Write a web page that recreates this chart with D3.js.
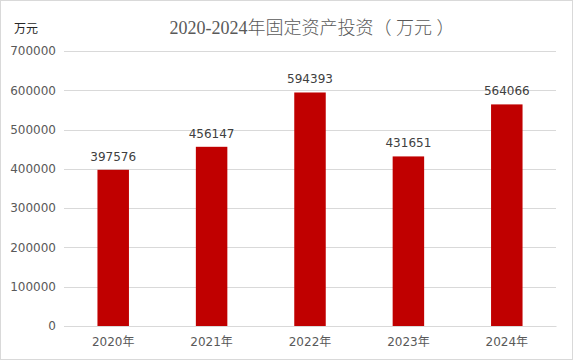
<!DOCTYPE html>
<html>
<head>
<meta charset="utf-8">
<script src="https://cdn.jsdelivr.net/npm/d3@7"></script>
<style>
  body { margin: 0; background: #fff; }
  svg { display: block; }
</style>
</head>
<body>
<svg id="chart" width="573" height="360"></svg>
<script>
const years = ["2020年", "2021年", "2022年", "2023年", "2024年"];
const values = [397576, 456147, 594393, 431651, 564066];
const yTicks = [0, 100000, 200000, 300000, 400000, 500000, 600000, 700000];

const width = 573;
const height = 360;
const margin = { top: 51, left: 64, bottom: 34, right: 17 };
const iwidth = width - margin.left - margin.right;
const iheight = height - margin.top - margin.bottom;

const svg = d3.select("#chart");

// outer frame
svg.append("rect")
  .attr("x", 0.5).attr("y", 0.5)
  .attr("width", width - 1).attr("height", height - 1)
  .attr("fill", "#fff").attr("stroke", "#d9d9d9");

const g = svg.append("g").attr("transform", `translate(${margin.left},${margin.top})`);

const y = d3.scaleLinear().domain([0, 700000]).range([iheight, 0]);
const x = d3.scaleBand().domain(years).range([0, iwidth]).paddingInner(0.68).paddingOuter(0.34);

// grid
g.selectAll("line.grid").data(yTicks).enter().append("line")
  .attr("class", "grid")
  .attr("x1", 0).attr("x2", iwidth)
  .attr("y1", d => Math.round(y(d)) + 0.5).attr("y2", d => Math.round(y(d)) + 0.5)
  .attr("stroke", "#d9d9d9").attr("stroke-width", 1);

// y axis labels
const yAxis = g.append("g")
  .call(d3.axisLeft(y).tickValues(yTicks).tickFormat(d3.format("d")).tickSize(0).tickPadding(8));
yAxis.select(".domain").remove();
yAxis.selectAll("text")
  .attr("fill", "#595959")
  .style("font-family", "'DejaVu Sans', sans-serif")
  .style("font-size", "12px");

// bars
g.selectAll("rect.bar").data(values).enter().append("rect")
  .attr("class", "bar")
  .attr("x", (d, i) => x(years[i]))
  .attr("y", d => y(d))
  .attr("width", x.bandwidth())
  .attr("height", d => iheight - y(d))
  .attr("fill", "#c00000");

// bar labels
g.selectAll("text.val").data(values).enter().append("text")
  .attr("class", "val")
  .attr("x", (d, i) => x(years[i]) + x.bandwidth() / 2)
  .attr("y", d => y(d) - 9)
  .attr("text-anchor", "middle")
  .attr("fill", "#404040")
  .style("font-family", "'DejaVu Sans', sans-serif")
  .style("font-size", "12px")
  .text(d => d);

// x axis
const xAxis = g.append("g")
  .attr("transform", `translate(0,${iheight})`)
  .call(d3.axisBottom(x).tickSize(0).tickPadding(11));
xAxis.select(".domain").attr("stroke", "#d9d9d9");
xAxis.selectAll("text")
  .attr("fill", "#595959")
  .style("font-family", "'DejaVu Sans', 'Noto Sans CJK SC', sans-serif")
  .style("font-size", "12px");

// title
svg.append("text")
  .attr("x", 312).attr("y", 34)
  .attr("text-anchor", "middle")
  .attr("fill", "#595959")
  .style("font-family", "'Liberation Serif', 'Noto Sans CJK SC', serif")
  .style("font-size", "18px")
  .style("font-weight", "300")
  .text("2020-2024年固定资产投资（ 万元 ）");

// unit label
svg.append("text")
  .attr("x", 14).attr("y", 33)
  .attr("fill", "#262626")
  .style("font-family", "'Noto Sans CJK SC', sans-serif")
  .style("font-size", "12px")
  .text("万元");
</script>
</body>
</html>
